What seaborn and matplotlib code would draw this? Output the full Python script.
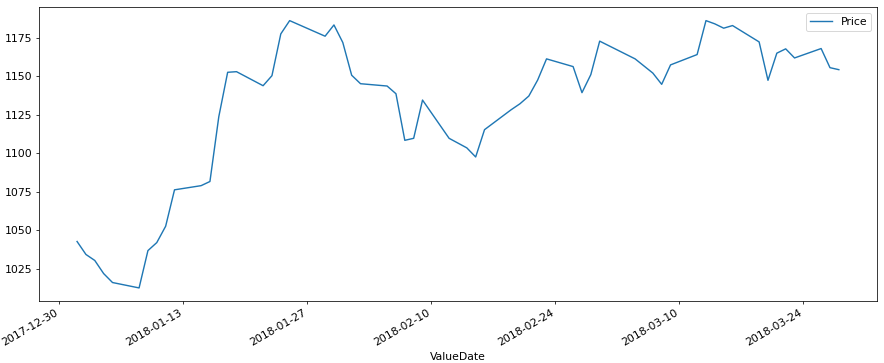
import matplotlib
matplotlib.use("Agg")
import matplotlib.pyplot as plt
import matplotlib.dates as mdates
import seaborn as sns
import pandas as pd

dates = ["2018-01-01", "2018-01-02", "2018-01-03", "2018-01-04", "2018-01-05",
         "2018-01-08", "2018-01-09", "2018-01-10", "2018-01-11", "2018-01-12",
         "2018-01-15", "2018-01-16", "2018-01-17", "2018-01-18", "2018-01-19",
         "2018-01-22", "2018-01-23", "2018-01-24", "2018-01-25",
         "2018-01-29", "2018-01-30", "2018-01-31", "2018-02-01", "2018-02-02",
         "2018-02-05", "2018-02-06", "2018-02-07", "2018-02-08", "2018-02-09",
         "2018-02-12", "2018-02-14", "2018-02-15", "2018-02-16",
         "2018-02-19", "2018-02-20", "2018-02-21", "2018-02-22", "2018-02-23",
         "2018-02-26", "2018-02-27", "2018-02-28", "2018-03-01",
         "2018-03-05", "2018-03-07", "2018-03-08", "2018-03-09",
         "2018-03-12", "2018-03-13", "2018-03-14", "2018-03-15", "2018-03-16",
         "2018-03-19", "2018-03-20", "2018-03-21", "2018-03-22", "2018-03-23",
         "2018-03-26", "2018-03-27", "2018-03-28"]
prices = [1042.8, 1034.4, 1030.5, 1022.0, 1016.2,
          1012.7, 1036.9, 1042.1, 1052.7, 1076.3,
          1079.0, 1081.7, 1123.7, 1152.5, 1152.9,
          1143.8, 1150.3, 1177.4, 1186.0,
          1175.9, 1183.2, 1171.8, 1150.6, 1145.1,
          1143.6, 1138.6, 1108.4, 1109.7, 1134.5,
          1109.7, 1103.5, 1097.6, 1115.3,
          1128.2, 1132.1, 1137.1, 1147.5, 1161.2,
          1156.2, 1139.3, 1151.0, 1172.7,
          1161.2, 1152.0, 1144.7, 1157.3,
          1164.0, 1186.0, 1183.9, 1181.1, 1182.8,
          1172.2, 1147.3, 1164.9, 1167.7, 1161.8,
          1167.9, 1155.5, 1154.2]
tick_dates = ["2017-12-30", "2018-01-13", "2018-01-27", "2018-02-10",
              "2018-02-24", "2018-03-10", "2018-03-24"]

df = pd.DataFrame({"ValueDate": pd.to_datetime(dates), "Price": prices})

plt.rcParams["font.size"] = 11.5
DPI = 68
fig, ax = plt.subplots(figsize=(884 / DPI, 363 / DPI), dpi=DPI)
sns.lineplot(data=df, x="ValueDate", y="Price", label="Price", ax=ax, color="#1f77b4")
ax.set_ylabel("")
ax.set_xlabel("ValueDate")
ax.set_xticks(pd.to_datetime(tick_dates))
ax.xaxis.set_major_formatter(mdates.DateFormatter("%Y-%m-%d"))
ax.set_yticks([1025, 1050, 1075, 1100, 1125, 1150, 1175])
ax.legend(loc="upper right")
fig.autofmt_xdate()
fig.subplots_adjust(left=0.0441, right=0.992, top=0.980, bottom=0.170)
fig.savefig("out.png", dpi=DPI)
